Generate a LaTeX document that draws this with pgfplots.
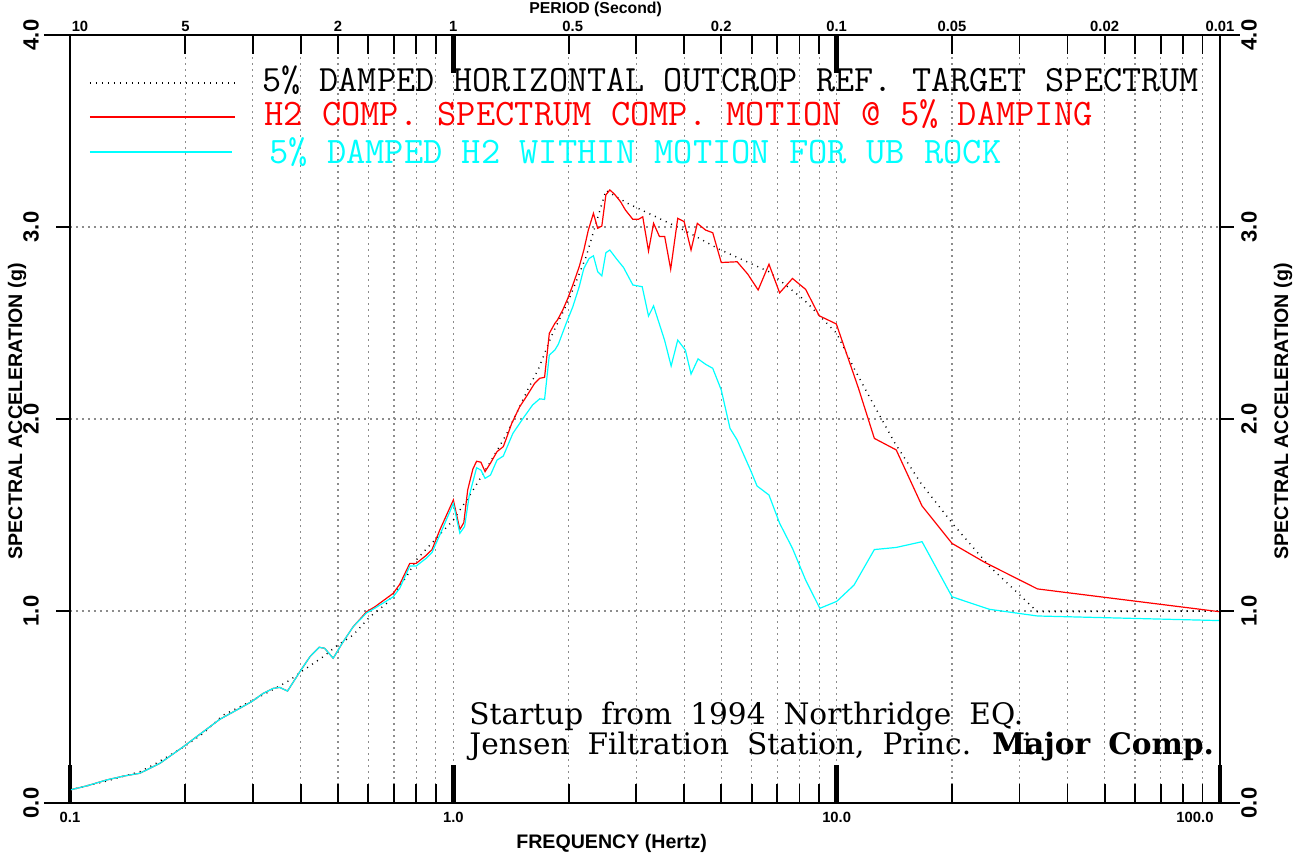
\documentclass[border=0pt]{standalone}
\usepackage{fontspec}
\usepackage{pgfplots}
\pgfplotsset{compat=1.18}
\newfontfamily\lab{Liberation Sans}
\newfontfamily\ann{DejaVu Serif}
\definecolor{aqua}{RGB}{0,255,255}
\definecolor{hred}{RGB}{255,0,0}
\newcommand\wsp{\spaceskip=9pt\relax}

\pgfplotsset{
  myax/.style={scale only axis, width=575pt, height=384pt,
    xmin=0.1, xmax=100, ymin=0, ymax=4, at={(0,0)}, anchor=south west,
    axis line style={draw=none}, xticklabels={}, yticklabels={},
    xticklabel style={opacity=0}, yticklabel style={opacity=0}, clip=false},
  myxt/.style={tick align=inside, major tick length=19pt, minor tick length=9.5pt,
    major tick style={black, line width=2.2pt}, minor tick style={black, line width=0.9pt},
    minor xtick={0.2,0.3,0.4,0.5,0.6,0.7,0.8,0.9,2,3,4,5,6,7,8,9,20,30,40,50,60,70,80,90}},
}
\tikzset{gridline/.style={black!45, line width=0.6pt, dash pattern=on 0.8pt off 2.2pt},
  tgt/.style={black, line width=0.7pt, dash pattern=on 0.5pt off 2.5pt},
  tl/.style={font={\lab\bfseries\fontsize{7.4}{8}\selectfont}, inner sep=0pt},
  yl/.style={font={\lab\bfseries\fontsize{11}{12}\selectfont}, inner sep=0pt, rotate=90},
  al/.style={font={\lab\bfseries\fontsize{9.8}{11}\selectfont}, inner sep=0pt}}

\begin{document}
\begin{tikzpicture}

% y axes: ticks on both sides, horizontal grid
\begin{axis}[xmode=log, myax, axis x line=none, xtick=\empty, ytick={0,1,2,3,4},
  tick align=outside, major tick length=7pt,
  major tick style={black, line width=1pt},
  ymajorgrids, major grid style={gridline}]
\addplot[draw=none] coordinates {(1,1)};
\end{axis}

% frequency axis and data
\begin{axis}[xmode=log, myax, axis x line*=bottom, axis y line=none, ytick=\empty,
  xtick={0.1,1,10,100}, myxt,
  xmajorgrids, xminorgrids, major grid style={gridline}, minor grid style={gridline}]

% 5% damped horizontal outcrop target spectrum
\addplot[tgt] coordinates {
 (0.1,0.068) (0.125,0.115) (0.1522,0.163) (0.1665,0.203) (0.1975,0.29)
 (0.2226,0.363) (0.251,0.458) (0.295,0.528) (0.333,0.583) (0.375,0.64)
 (0.398,0.679) (0.458,0.762) (0.496,0.818) (0.548,0.875) (0.606,0.97)
 (0.67,1.04) (0.755,1.179) (0.80,1.266) (1.0,1.474) (1.105,1.604)
 (1.25,1.777) (1.38,1.925) (1.57,2.16) (1.67,2.264) (1.80,2.429)
 (2.0,2.62) (2.22,2.845) (2.37,3.036) (2.5,3.19) (2.85,3.123)
 (3.32,3.06) (4.04,2.979) (4.94,2.884) (6.66,2.767) (8.23,2.62)
 (10,2.446) (11.1,2.264) (12.5,2.073) (14.2,1.873) (16.6,1.665)
 (20.1,1.453) (25,1.234) (33.4,0.996) (100,1.0)
};

% H2 component spectrum
\addplot[hred, line width=0.6pt] coordinates {
 (0.1,0.068) (0.1105,0.089) (0.1246,0.12) (0.1378,0.14) (0.1522,0.155)
 (0.1717,0.207) (0.1975,0.293) (0.2226,0.371) (0.246,0.436) (0.272,0.484)
 (0.2978,0.528) (0.3192,0.571) (0.339,0.597) (0.3525,0.602) (0.3694,0.583)
 (0.398,0.684) (0.4226,0.762) (0.4467,0.811) (0.4615,0.806) (0.486,0.754)
 (0.516,0.84) (0.548,0.918) (0.594,0.996) (0.6245,1.022) (0.697,1.092)
 (0.7254,1.14) (0.77,1.248) (0.80,1.248) (0.85,1.29) (0.88,1.32)
 (0.922,1.422) (1.0,1.578) (1.04,1.425) (1.065,1.46) (1.09,1.63)
 (1.125,1.74) (1.15,1.78) (1.18,1.775) (1.21,1.726) (1.25,1.77)
 (1.30,1.83) (1.35,1.856) (1.37,1.89) (1.42,1.977) (1.49,2.064)
 (1.55,2.116) (1.63,2.186) (1.68,2.212) (1.73,2.217) (1.78,2.446)
 (1.84,2.498) (1.87,2.516) (1.93,2.568) (1.99,2.629) (2.05,2.698)
 (2.13,2.793) (2.19,2.88) (2.25,2.984) (2.32,3.071) (2.38,2.993)
 (2.44,3.005) (2.50,3.167) (2.56,3.193) (2.63,3.172) (2.73,3.132)
 (2.81,3.089) (2.94,3.04) (3.04,3.04) (3.12,3.053) (3.23,2.875)
 (3.33,3.019) (3.45,2.95) (3.56,2.95) (3.69,2.78) (3.85,3.045)
 (4.0,3.028) (4.17,2.88) (4.33,3.019) (4.55,2.984) (4.75,2.97)
 (5.0,2.815) (5.5,2.819) (5.86,2.755) (6.24,2.672) (6.66,2.806)
 (7.1,2.657) (7.67,2.732) (8.3,2.675) (9.0,2.538) (9.98,2.495)
 (11.4,2.16) (12.54,1.899) (14.3,1.839) (16.7,1.547) (20.0,1.352)
 (24.3,1.254) (33.4,1.115) (100,0.996)
};

% H2 within motion for UB rock
\addplot[aqua, line width=0.6pt] coordinates {
 (0.1,0.068) (0.1105,0.089) (0.1246,0.12) (0.1378,0.14) (0.1522,0.155)
 (0.1717,0.207) (0.1975,0.293) (0.2226,0.371) (0.246,0.436) (0.272,0.484)
 (0.2978,0.528) (0.3192,0.571) (0.339,0.597) (0.3525,0.602) (0.3694,0.583)
 (0.398,0.684) (0.4226,0.762) (0.4467,0.811) (0.4615,0.806) (0.486,0.754)
 (0.516,0.84) (0.548,0.918) (0.594,0.99) (0.6245,1.015) (0.697,1.074)
 (0.7254,1.12) (0.77,1.234) (0.80,1.234) (0.85,1.275) (0.88,1.305)
 (0.922,1.396) (1.0,1.56) (1.04,1.405) (1.07,1.44) (1.10,1.6)
 (1.15,1.746) (1.18,1.734) (1.21,1.691) (1.25,1.708) (1.30,1.786)
 (1.35,1.807) (1.43,1.925) (1.52,2.003) (1.61,2.073) (1.68,2.105)
 (1.73,2.102) (1.78,2.333) (1.84,2.359) (1.88,2.39) (1.97,2.498)
 (2.05,2.585) (2.13,2.689) (2.19,2.784) (2.26,2.836) (2.32,2.85)
 (2.38,2.767) (2.44,2.745) (2.50,2.866) (2.56,2.88) (2.66,2.836)
 (2.78,2.789) (2.94,2.698) (3.11,2.689) (3.23,2.536) (3.33,2.589)
 (3.56,2.408) (3.70,2.276) (3.85,2.411) (4.03,2.359) (4.17,2.234)
 (4.35,2.313) (4.55,2.285) (4.75,2.264) (5.0,2.151) (5.27,1.951)
 (5.5,1.891) (5.96,1.734) (6.2,1.651) (6.66,1.604) (7.1,1.457)
 (7.67,1.326) (8.3,1.161) (9.04,1.014) (10.0,1.05) (11.1,1.135)
 (12.54,1.32) (14.3,1.331) (16.7,1.361) (20,1.074) (25,1.009)
 (33.4,0.974) (100,0.95)
};

% legend
\draw[tgt] (rel axis cs:0.0174,0.9375) -- (rel axis cs:0.1435,0.9375);
\draw[hred, line width=0.7pt] (rel axis cs:0.0174,0.8932) -- (rel axis cs:0.1435,0.8932);
\draw[aqua, line width=0.7pt] (rel axis cs:0.0174,0.8477) -- (rel axis cs:0.141,0.8477);
\node[anchor=base west, inner sep=0pt, font={\ttfamily\fontsize{18.55}{20}\selectfont}]
  at (rel axis cs:0.167,0.9258) {\frenchspacing 5\% DAMPED HORIZONTAL OUTCROP REF. TARGET SPECTRUM};
\node[anchor=base west, inner sep=0pt, text=hred, font={\ttfamily\fontsize{18.7}{20}\selectfont}]
  at (rel axis cs:0.1687,0.8828) {\frenchspacing H2 COMP. SPECTRUM COMP. MOTION @ 5\% DAMPING};
\node[anchor=base west, inner sep=0pt, text=aqua, font={\ttfamily\fontsize{18.7}{20}\selectfont}]
  at (rel axis cs:0.173,0.8333) {\frenchspacing 5\% DAMPED H2 WITHIN MOTION FOR UB ROCK};

% annotation
\node[anchor=base west, inner sep=0pt, font={\ann\fontsize{14.8}{16}\selectfont}]
  at (rel axis cs:0.347,0.1016) {\wsp Startup from 1994 Northridge EQ.};
\node[anchor=base west, inner sep=0pt, font={\ann\fontsize{14.8}{16}\selectfont}]
  at (rel axis cs:0.347,0.0625) {\wsp Jensen Filtration Station, Princ. \makebox[0pt][l]{Mi}\textbf{Major Comp.}};

% frequency tick labels
\node[tl] at ([yshift=-7pt]axis cs:0.1,0) {0.1};
\node[tl] at ([yshift=-7pt]axis cs:1,0) {1.0};
\node[tl] at ([yshift=-7pt]axis cs:10,0) {10.0};
\node[tl] at ([xshift=-12.5pt,yshift=-7pt]axis cs:100,0) {100.0};
\node[al] at ([yshift=-20pt]rel axis cs:0.471,0) {FREQUENCY (Hertz)};

% acceleration tick labels
\node[yl] at ([xshift=-19.5pt]rel axis cs:0,0) {0.0};
\node[yl] at ([xshift=-19.5pt]rel axis cs:0,0.25) {1.0};
\node[yl] at ([xshift=-19.5pt]rel axis cs:0,0.5) {2.0};
\node[yl] at ([xshift=-19.5pt]rel axis cs:0,0.75) {3.0};
\node[yl] at ([xshift=-19.5pt]rel axis cs:0,1) {4.0};
\node[yl] at ([xshift=14.5pt]rel axis cs:1,0) {0.0};
\node[yl] at ([xshift=14.5pt]rel axis cs:1,0.25) {1.0};
\node[yl] at ([xshift=14.5pt]rel axis cs:1,0.5) {2.0};
\node[yl] at ([xshift=14.5pt]rel axis cs:1,0.75) {3.0};
\node[yl] at ([xshift=14.5pt]rel axis cs:1,1) {4.0};
\node[al, rotate=90] at ([xshift=-26.5pt]rel axis cs:0,0.51) {SPECTRAL ACCELERATION (g)};
\node[al, rotate=90] at ([xshift=31.5pt]rel axis cs:1,0.51) {SPECTRAL ACCELERATION (g)};
\end{axis}

% period axis
\begin{axis}[xmode=log, myax, axis x line*=top, axis y line=none, ytick=\empty,
  xtick={1,10}, myxt]
\addplot[draw=none] coordinates {(1,1)};
\node[tl] at ([xshift=5pt,yshift=4.5pt]axis cs:0.1,4) {10};
\node[tl] at ([yshift=4.5pt]axis cs:0.2,4) {5};
\node[tl] at ([yshift=4.5pt]axis cs:0.5,4) {2};
\node[tl] at ([yshift=4.5pt]axis cs:1,4) {1};
\node[tl] at ([xshift=2pt,yshift=4.5pt]axis cs:2,4) {0.5};
\node[tl] at ([yshift=4.5pt]axis cs:5,4) {0.2};
\node[tl] at ([yshift=4.5pt]axis cs:10,4) {0.1};
\node[tl] at ([yshift=4.5pt]axis cs:20,4) {0.05};
\node[tl] at ([yshift=4.5pt]axis cs:50,4) {0.02};
\node[tl] at ([yshift=4.5pt]axis cs:100,4) {0.01};
\node[inner sep=0pt, font={\lab\bfseries\fontsize{7.9}{9}\selectfont}] at ([yshift=12.75pt]rel axis cs:0.457,1) {PERIOD (Second)};
% frame
\draw[line width=1.4pt] ([xshift=-13pt]rel axis cs:0,0) -- ([xshift=10pt]rel axis cs:1,0);
\draw[line width=1.4pt] ([xshift=-13pt]rel axis cs:0,1) -- ([xshift=10pt]rel axis cs:1,1);
\draw[line width=1.4pt] (rel axis cs:0,0) -- (rel axis cs:0,1);
\draw[line width=1.4pt] (rel axis cs:1,0) -- (rel axis cs:1,1);
\end{axis}

\pgfresetboundingbox
\path[use as bounding box] (-35pt,-26.5pt) rectangle (615.5pt,401.5pt);
\end{tikzpicture}
\end{document}
